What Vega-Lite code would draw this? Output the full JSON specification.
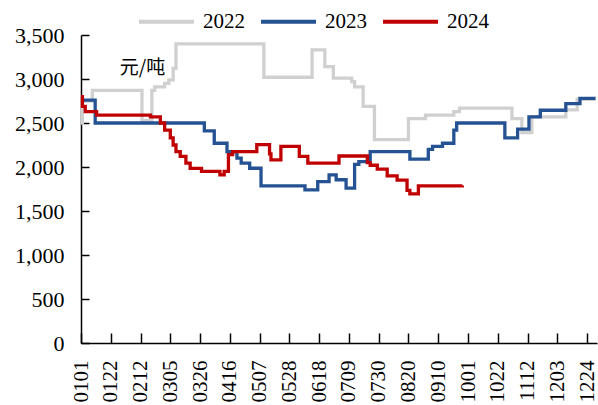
{
  "$schema": "https://vega.github.io/schema/vega-lite/v6.json",
  "width": 516,
  "height": 308,
  "autosize": "none",
  "padding": {"left": 81, "top": 35, "right": 1, "bottom": 62},
  "background": "white",
  "config": {"view": {"stroke": null}, "font": "Liberation Serif", "axis": {"labelFont": "Liberation Serif"}},
  "data": {
    "values": [
      {"year": "2022", "date": "2023-01-01", "price": 2500},
      {"year": "2022", "date": "2023-01-02", "price": 2750},
      {"year": "2022", "date": "2023-01-09", "price": 2870},
      {"year": "2022", "date": "2023-02-13", "price": 2530},
      {"year": "2022", "date": "2023-02-20", "price": 2870},
      {"year": "2022", "date": "2023-02-22", "price": 2910},
      {"year": "2022", "date": "2023-03-01", "price": 2950},
      {"year": "2022", "date": "2023-03-04", "price": 2990},
      {"year": "2022", "date": "2023-03-07", "price": 3120},
      {"year": "2022", "date": "2023-03-09", "price": 3400},
      {"year": "2022", "date": "2023-05-10", "price": 3020},
      {"year": "2022", "date": "2023-06-13", "price": 3330},
      {"year": "2022", "date": "2023-06-22", "price": 3140},
      {"year": "2022", "date": "2023-06-28", "price": 3010},
      {"year": "2022", "date": "2023-07-11", "price": 2970},
      {"year": "2022", "date": "2023-07-13", "price": 2910},
      {"year": "2022", "date": "2023-07-19", "price": 2690},
      {"year": "2022", "date": "2023-07-27", "price": 2310},
      {"year": "2022", "date": "2023-08-20", "price": 2550},
      {"year": "2022", "date": "2023-09-01", "price": 2590},
      {"year": "2022", "date": "2023-09-21", "price": 2630},
      {"year": "2022", "date": "2023-09-25", "price": 2670},
      {"year": "2022", "date": "2023-11-01", "price": 2550},
      {"year": "2022", "date": "2023-11-08", "price": 2390},
      {"year": "2022", "date": "2023-11-15", "price": 2570},
      {"year": "2022", "date": "2023-12-09", "price": 2650},
      {"year": "2022", "date": "2023-12-17", "price": 2770},
      {"year": "2022", "date": "2023-12-30", "price": 2770},

      {"year": "2023", "date": "2023-01-01", "price": 2760},
      {"year": "2023", "date": "2023-01-11", "price": 2500},
      {"year": "2023", "date": "2023-03-29", "price": 2410},
      {"year": "2023", "date": "2023-04-05", "price": 2270},
      {"year": "2023", "date": "2023-04-14", "price": 2175},
      {"year": "2023", "date": "2023-04-21", "price": 2100},
      {"year": "2023", "date": "2023-04-24", "price": 2043},
      {"year": "2023", "date": "2023-04-30", "price": 1986},
      {"year": "2023", "date": "2023-05-08", "price": 1785},
      {"year": "2023", "date": "2023-06-08", "price": 1740},
      {"year": "2023", "date": "2023-06-17", "price": 1834},
      {"year": "2023", "date": "2023-06-25", "price": 1910},
      {"year": "2023", "date": "2023-06-30", "price": 1855},
      {"year": "2023", "date": "2023-07-07", "price": 1760},
      {"year": "2023", "date": "2023-07-13", "price": 2030},
      {"year": "2023", "date": "2023-07-16", "price": 2060},
      {"year": "2023", "date": "2023-07-24", "price": 2175},
      {"year": "2023", "date": "2023-08-21", "price": 2090},
      {"year": "2023", "date": "2023-09-03", "price": 2200},
      {"year": "2023", "date": "2023-09-06", "price": 2235},
      {"year": "2023", "date": "2023-09-13", "price": 2270},
      {"year": "2023", "date": "2023-09-21", "price": 2420},
      {"year": "2023", "date": "2023-09-23", "price": 2500},
      {"year": "2023", "date": "2023-10-27", "price": 2330},
      {"year": "2023", "date": "2023-11-05", "price": 2430},
      {"year": "2023", "date": "2023-11-13", "price": 2570},
      {"year": "2023", "date": "2023-11-21", "price": 2645},
      {"year": "2023", "date": "2023-12-09", "price": 2720},
      {"year": "2023", "date": "2023-12-19", "price": 2780},
      {"year": "2023", "date": "2023-12-30", "price": 2780},

      {"year": "2024", "date": "2023-01-01", "price": 2800},
      {"year": "2024", "date": "2023-01-02", "price": 2690},
      {"year": "2024", "date": "2023-01-04", "price": 2630},
      {"year": "2024", "date": "2023-01-12", "price": 2590},
      {"year": "2024", "date": "2023-02-19", "price": 2570},
      {"year": "2024", "date": "2023-02-26", "price": 2500},
      {"year": "2024", "date": "2023-03-01", "price": 2420},
      {"year": "2024", "date": "2023-03-05", "price": 2330},
      {"year": "2024", "date": "2023-03-07", "price": 2250},
      {"year": "2024", "date": "2023-03-09", "price": 2175},
      {"year": "2024", "date": "2023-03-12", "price": 2120},
      {"year": "2024", "date": "2023-03-16", "price": 2045},
      {"year": "2024", "date": "2023-03-19", "price": 1985},
      {"year": "2024", "date": "2023-03-27", "price": 1950},
      {"year": "2024", "date": "2023-04-09", "price": 1910},
      {"year": "2024", "date": "2023-04-12", "price": 1950},
      {"year": "2024", "date": "2023-04-15", "price": 2140},
      {"year": "2024", "date": "2023-04-18", "price": 2175},
      {"year": "2024", "date": "2023-05-05", "price": 2255},
      {"year": "2024", "date": "2023-05-14", "price": 2150},
      {"year": "2024", "date": "2023-05-15", "price": 2080},
      {"year": "2024", "date": "2023-05-22", "price": 2235},
      {"year": "2024", "date": "2023-06-04", "price": 2120},
      {"year": "2024", "date": "2023-06-10", "price": 2045},
      {"year": "2024", "date": "2023-07-02", "price": 2125},
      {"year": "2024", "date": "2023-07-22", "price": 2050},
      {"year": "2024", "date": "2023-07-24", "price": 2020},
      {"year": "2024", "date": "2023-07-29", "price": 1975},
      {"year": "2024", "date": "2023-08-05", "price": 1900},
      {"year": "2024", "date": "2023-08-12", "price": 1850},
      {"year": "2024", "date": "2023-08-19", "price": 1735},
      {"year": "2024", "date": "2023-08-21", "price": 1695},
      {"year": "2024", "date": "2023-08-27", "price": 1785},
      {"year": "2024", "date": "2023-09-27", "price": 1790}
    ]
  },
  "layer": [
    {
      "mark": {"type": "line", "interpolate": "step-after", "opacity": 0},
      "encoding": {
        "x": {
          "field": "date",
          "type": "temporal",
          "scale": {
            "type": "utc",
            "domain": [
              {"year": 2023, "month": 1, "date": 1, "utc": true},
              {"year": 2023, "month": 12, "date": 31, "utc": true}
            ]
          },
          "axis": {
            "title": null,
            "orient": "bottom",
            "labels": false,
            "ticks": false,
            "domain": true,
            "domainColor": "black",
            "domainWidth": 1.5,
            "grid": false
          }
        },
        "y": {
          "field": "price",
          "type": "quantitative",
          "scale": {"domain": [0, 3500], "nice": false},
          "axis": {
            "title": null,
            "orient": "left",
            "labels": false,
            "ticks": false,
            "domain": true,
            "domainColor": "black",
            "domainWidth": 1.5,
            "grid": false
          }
        },
        "detail": {"field": "year", "type": "nominal"}
      }
    },
    {
      "mark": {"type": "line", "interpolate": "step-after", "strokeWidth": 3.3},
      "encoding": {
        "x": {
          "field": "date",
          "type": "temporal",
          "axis": {
            "title": null,
            "orient": "bottom",
            "offset": -10,
            "values": [
              {"year": 2023, "month": 1, "date": 1, "utc": true},
              {"year": 2023, "month": 1, "date": 22, "utc": true},
              {"year": 2023, "month": 2, "date": 12, "utc": true},
              {"year": 2023, "month": 3, "date": 5, "utc": true},
              {"year": 2023, "month": 3, "date": 26, "utc": true},
              {"year": 2023, "month": 4, "date": 16, "utc": true},
              {"year": 2023, "month": 5, "date": 7, "utc": true},
              {"year": 2023, "month": 5, "date": 28, "utc": true},
              {"year": 2023, "month": 6, "date": 18, "utc": true},
              {"year": 2023, "month": 7, "date": 9, "utc": true},
              {"year": 2023, "month": 7, "date": 30, "utc": true},
              {"year": 2023, "month": 8, "date": 20, "utc": true},
              {"year": 2023, "month": 9, "date": 10, "utc": true},
              {"year": 2023, "month": 10, "date": 1, "utc": true},
              {"year": 2023, "month": 10, "date": 22, "utc": true},
              {"year": 2023, "month": 11, "date": 12, "utc": true},
              {"year": 2023, "month": 12, "date": 3, "utc": true},
              {"year": 2023, "month": 12, "date": 24, "utc": true}
            ],
            "format": "%m%d",
            "labelAngle": -90,
            "labelAlign": "right",
            "labelBaseline": "middle",
            "labelFont": "Liberation Serif",
            "labelFontSize": 21,
            "labelColor": "black",
            "labelPadding": 17,
            "labelOverlap": false,
            "labelFlush": false,
            "ticks": true,
            "tickSize": 10,
            "tickColor": "black",
            "tickWidth": 1.5,
            "grid": false,
            "domain": false
          }
        },
        "y": {
          "field": "price",
          "type": "quantitative",
          "axis": {
            "orient": "left",
            "offset": -8,
            "tickCount": 8,
            "format": ",.0f",
            "labelFont": "Liberation Serif",
            "labelFontSize": 22,
            "labelColor": "black",
            "labelPadding": 17,
            "ticks": true,
            "tickSize": 8,
            "tickColor": "black",
            "tickWidth": 1.5,
            "domain": false,
            "grid": false,
            "title": "元/吨",
            "titleAngle": 0,
            "titleX": 53,
            "titleY": 32,
            "titleAlign": "center",
            "titleBaseline": "middle",
            "titleFont": "Noto Sans CJK SC",
            "titleFontSize": 19,
            "titleFontWeight": "normal",
            "titleColor": "black"
          }
        },
        "color": {
          "field": "year",
          "type": "nominal",
          "scale": {"domain": ["2022", "2023", "2024"], "range": ["#D0D0D0", "#255293", "#C00000"]},
          "legend": {
            "title": null,
            "orient": "none",
            "legendX": 56,
            "legendY": -43,
            "direction": "horizontal",
            "symbolType": "stroke",
            "symbolSize": 3025,
            "symbolStrokeWidth": 4,
            "labelFont": "Liberation Serif",
            "labelFontSize": 21,
            "labelColor": "black",
            "labelOffset": 7,
            "columnPadding": 8,
            "padding": 0
          }
        }
      }
    }
  ],
  "resolve": {"axis": {"x": "independent", "y": "independent"}}
}
